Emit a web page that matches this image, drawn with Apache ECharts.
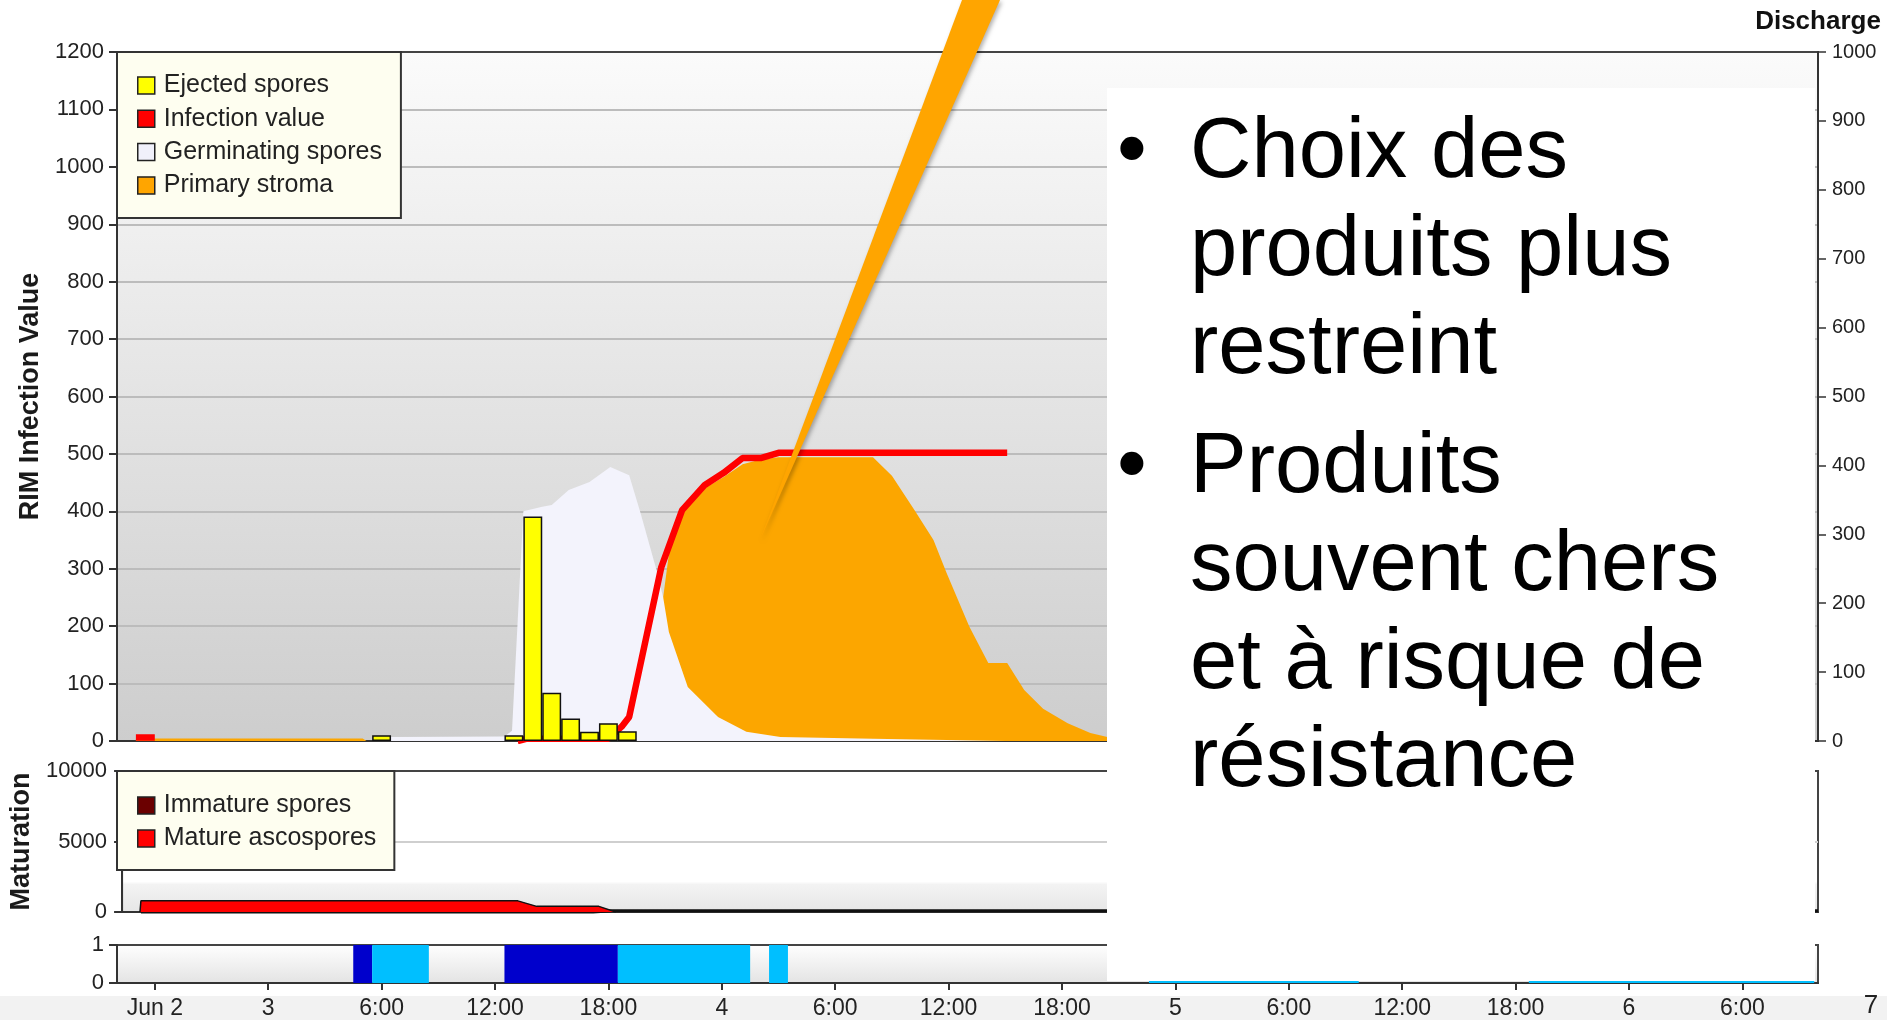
<!DOCTYPE html>
<html lang="fr">
<head>
    <meta charset="UTF-8">
    <title>RIM - Infection</title>
    <script type="text/javascript" src="https://cdn.jsdelivr.net/npm/echarts@6/dist/echarts.min.js"></script>
    <style>
        html, body {margin: 0; padding: 0; background: #fff;}
        #ec {width: 1887px; height: 1020px;}
    </style>
</head>
<body>
<div id="ec"></div>
<script>
    // ---- data (hours from the "Jun 2" tick) ----
    var xTickHours = [0, 6, 12, 18, 24, 30, 36, 42, 48, 54, 60, 66, 72, 78, 84];
    var xTickLabels = ['Jun 2', '3', '6:00', '12:00', '18:00', '4', '6:00', '12:00', '18:00', '5', '6:00', '12:00', '18:00', '6', '6:00'];

    var ejectedHours = [12, 19, 20, 21, 22, 23, 24, 25];
    var ejectedValues = [10, 10, 391, 84, 39, 16, 31, 17];

    var infectionHours = [-1, 0, 0.5, 19.2, 19.7, 24, 24.7, 25.1, 26.8, 27.9, 29.1, 30.1, 31.1, 32.1, 33.0, 45.1];
    var infectionValues = [6, 6, '-', 0, 4, 4, 25, 42, 303, 402, 446, 467, 493, 493, 502, 502];

    var germHours = [11.5, 12.5, 18.5, 18.9, 19.5, 20.5, 21, 21.9, 23, 24.1, 25.1, 25.7, 26.5, 26.9, 27.2, 28.2, 29.8, 31.3, 33.1, 38, 45];
    var germValues = [0, 7, 8, 18, 400, 408, 411, 437, 451, 477, 463, 397, 303, 250, 190, 94, 42, 16, 7, 4, 0];

    var stromaHours = [-1, 11, 11.2, 25.5, 26, 26.9, 27.3, 27.9, 28.5, 29.1, 30.1, 31.1, 32, 33, 38, 39, 40.2, 41.2, 41.9, 43.1, 44.1, 45.1, 46, 47, 48.3, 49.5, 50.4, 52, 54];
    var stromaValues = [4.5, 4.5, 0, 0, 50, 251, 350, 402, 425, 440, 460, 482, 490, 494, 494, 462, 402, 350, 292, 199, 136, 136, 89, 56, 31, 14, 7, 2, 0];

    var matureHours = [-1.05, -1, 19, 20, 23.3, 24.2];
    var matureValues = [0, 790, 790, 400, 400, 0];

    var immatureHours = [-1, 23, 24, 88];
    var immatureValues = [0, 0, 80, 80];

    // leaf wetness: [start, end]
    var wetDark = [[10.5, 11.5], [18.5, 24.5]];
    var wetLight = [[11.5, 14.5], [24.5, 31.5], [32.5, 33.5], [52.6, 63.7], [72.7, 87.8]];

    var FONT = '"Liberation Sans", Arial, sans-serif';

    function pairs(xs, ys) {
        return xs.map(function (x, i) { return [x, ys[i]]; });
    }

    var wetData = [];
    wetDark.forEach(function (d) { wetData.push([d[0], d[1], 1]); });
    wetLight.forEach(function (d) { wetData.push([d[0], d[1], 0]); });

    var slideLines = [
        {text: 'Choix des', base: 178, bullet: true},
        {text: 'produits plus', base: 276},
        {text: 'restreint', base: 374},
        {text: 'Produits', base: 493, bullet: true},
        {text: 'souvent chers', base: 591},
        {text: 'et à risque de', base: 689},
        {text: 'résistance', base: 787}
    ];

    function grad(stops) {
        return new echarts.graphic.LinearGradient(0, 0, 0, 1, stops);
    }
    function plain(v) {
        return String(v);
    }

    var axisLine = {show: true, onZero: false, lineStyle: {color: '#333', width: 2}};

    var graphics = [
        {type: 'rect', z: -1, silent: true, shape: {x: 0, y: 996, width: 1887, height: 24}, style: {fill: '#f2f2f2'}},
        {type: 'rect', z: 100, silent: true, shape: {x: 1107, y: 88, width: 708, height: 893}, style: {fill: '#fff'}},
        {type: 'polygon', z: 102, silent: true, shape: {points: [[962, 0], [1000, 0], [760, 540]]},
            style: {fill: '#ffa500', shadowBlur: 4, shadowOffsetX: 2, shadowOffsetY: 2, shadowColor: 'rgba(0,0,0,0.3)'}},
        {type: 'text', z: 101, silent: true, style: {text: '7', x: 1871, y: 1006, align: 'center', verticalAlign: 'middle', fontSize: 26, fontFamily: FONT, fill: '#222'}}
    ];
    slideLines.forEach(function (l) {
        graphics.push({type: 'text', z: 101, silent: true,
            style: {text: l.text, x: 1190, y: l.base - 24, align: 'left', verticalAlign: 'middle', fontSize: 85, fontFamily: FONT, fill: '#000'}});
        if (l.bullet) {
            graphics.push({type: 'text', z: 101, silent: true,
                style: {text: '\u2022', x: 1117, y: l.base - 24, align: 'left', verticalAlign: 'middle', fontSize: 85, fontFamily: FONT, fill: '#000'}});
        }
    });

    var myChart = echarts.init(document.getElementById('ec'));
    myChart.setOption({
        animation: false,
        backgroundColor: '#fff',
        textStyle: {fontFamily: FONT},
        grid: [
            {left: 117, top: 52, width: 1701, height: 689, show: true, borderColor: '#444', borderWidth: 2,
                backgroundColor: grad([{offset: 0, color: '#fbfbfb'}, {offset: 1, color: '#cdcdcd'}])},
            {left: 117, top: 771, width: 1701, height: 141, show: true, borderColor: '#444', borderWidth: 2,
                backgroundColor: grad([{offset: 0, color: '#fff'}, {offset: 0.78, color: '#fff'}, {offset: 0.8, color: '#f3f3f3'}, {offset: 1, color: '#e6e6e6'}])},
            {left: 117, top: 945, width: 1701, height: 38, show: true, borderColor: '#444', borderWidth: 2,
                backgroundColor: grad([{offset: 0, color: '#fff'}, {offset: 1, color: '#e3e3e3'}])}
        ],
        legend: [
            {
                data: ['Ejected spores', 'Infection value', 'Germinating spores', 'Primary stroma'],
                orient: 'vertical', left: 117, top: 52, z: 10, selectedMode: false,
                padding: [21, 19, 20, 20], itemWidth: 17, itemHeight: 17, itemGap: 8.3, icon: 'rect',
                backgroundColor: '#fefef0', borderColor: '#333', borderWidth: 2,
                itemStyle: {borderColor: '#222', borderWidth: 1.5},
                textStyle: {fontSize: 25, lineHeight: 24, color: '#222', padding: [0, 0, 0, 4], fontFamily: FONT}
            },
            {
                data: ['Immature spores', 'Mature ascospores'],
                orient: 'vertical', left: 117, top: 771, z: 10, selectedMode: false,
                padding: [22, 18, 19, 20], itemWidth: 17, itemHeight: 17, itemGap: 8, icon: 'rect',
                backgroundColor: '#fefef0', borderColor: '#333', borderWidth: 2,
                itemStyle: {borderColor: '#222', borderWidth: 1.5},
                textStyle: {fontSize: 25, lineHeight: 24, color: '#222', padding: [0, 0, 0, 4], fontFamily: FONT}
            }
        ],
        xAxis: [
            {gridIndex: 0, type: 'value', min: -2, max: 88, axisLine: axisLine, axisTick: {show: false}, axisLabel: {show: false}, splitLine: {show: false}},
            {gridIndex: 1, type: 'value', min: -2, max: 88, axisLine: axisLine, axisTick: {show: false}, axisLabel: {show: false}, splitLine: {show: false}},
            {
                gridIndex: 2, type: 'value', min: -2, max: 88, axisLine: axisLine, splitLine: {show: false},
                axisTick: {show: true, length: 7, customValues: xTickHours, lineStyle: {color: '#333', width: 2}},
                axisLabel: {
                    show: true, margin: 14, customValues: xTickHours, color: '#222', fontSize: 23, fontFamily: FONT,
                    formatter: function (v) {
                        var i = xTickHours.indexOf(v);
                        return i >= 0 ? xTickLabels[i] : '';
                    }
                }
            }
        ],
        yAxis: [
            {
                gridIndex: 0, type: 'value', min: 0, max: 1200, interval: 100, position: 'left',
                name: 'RIM Infection Value', nameLocation: 'middle', nameGap: 63, nameRotate: 90,
                nameTextStyle: {fontSize: 27, fontWeight: 'bold', color: '#1a1a1a', fontFamily: FONT},
                axisLine: axisLine, axisTick: {show: true, length: 8, lineStyle: {color: '#333', width: 2}},
                axisLabel: {margin: 13, color: '#222', fontSize: 22, fontFamily: FONT, formatter: plain},
                splitLine: {show: true, showMinLine: false, showMaxLine: false, lineStyle: {color: '#bcbcbc', width: 2}}
            },
            {
                gridIndex: 0, type: 'value', min: 0, max: 1000, interval: 100, position: 'right',
                name: 'Discharge', nameLocation: 'end', nameGap: 17,
                nameTextStyle: {fontSize: 26, fontWeight: 'bold', color: '#111', fontFamily: FONT},
                axisLine: axisLine, axisTick: {show: true, length: 8, lineStyle: {color: '#333', width: 1.5}},
                axisLabel: {margin: 14, color: '#222', fontSize: 20, fontFamily: FONT, formatter: plain},
                splitLine: {show: false}
            },
            {
                gridIndex: 1, type: 'value', min: 0, max: 10000, interval: 5000,
                name: 'Maturation', nameLocation: 'middle', nameGap: 85, nameRotate: 90,
                nameTextStyle: {fontSize: 27, fontWeight: 'bold', color: '#1a1a1a', fontFamily: FONT},
                axisLine: axisLine, axisTick: {show: true, length: 8, lineStyle: {color: '#333', width: 2}},
                axisLabel: {margin: 15, color: '#222', fontSize: 22, fontFamily: FONT, formatter: plain},
                splitLine: {show: true, showMinLine: false, showMaxLine: false, lineStyle: {color: '#cfcfcf', width: 2}}
            },
            {
                gridIndex: 2, type: 'value', min: 0, max: 1, interval: 1,
                axisLine: axisLine, axisTick: {show: true, length: 8, lineStyle: {color: '#333', width: 2}},
                axisLabel: {margin: 13, color: '#222', fontSize: 22, fontFamily: FONT, formatter: plain},
                splitLine: {show: false}
            }
        ],
        series: [
            {
                name: 'Primary stroma', type: 'line', xAxisIndex: 0, yAxisIndex: 0, z: 2,
                data: pairs(stromaHours, stromaValues), symbol: 'none',
                lineStyle: {width: 0}, itemStyle: {color: '#ffa500'}, areaStyle: {color: '#fca600', opacity: 1}
            },
            {
                name: 'Germinating spores', type: 'line', xAxisIndex: 0, yAxisIndex: 0, z: 3,
                data: pairs(germHours, germValues), symbol: 'none',
                lineStyle: {width: 0}, itemStyle: {color: '#f0f0fa'}, areaStyle: {color: '#f3f3fc', opacity: 1}
            },
            {
                name: 'Infection value', type: 'line', xAxisIndex: 0, yAxisIndex: 0, z: 4,
                data: pairs(infectionHours, infectionValues), symbol: 'none',
                lineStyle: {color: '#ff0000', width: 6.5}, itemStyle: {color: '#ff0000'}
            },
            {
                name: 'Ejected spores', type: 'bar', xAxisIndex: 0, yAxisIndex: 0, z: 5,
                data: pairs(ejectedHours, ejectedValues), barWidth: 18.9,
                itemStyle: {color: '#ffff00', borderColor: '#111', borderWidth: 1.5}
            },
            {
                name: 'Immature spores', type: 'line', xAxisIndex: 1, yAxisIndex: 2, z: 2, clip: false,
                data: pairs(immatureHours, immatureValues), symbol: 'none',
                lineStyle: {color: '#111', width: 3}, itemStyle: {color: '#6b0000'}, areaStyle: {color: '#6b0000', opacity: 1}
            },
            {
                name: 'Mature ascospores', type: 'line', xAxisIndex: 1, yAxisIndex: 2, z: 3,
                data: pairs(matureHours, matureValues), symbol: 'none',
                lineStyle: {color: '#111', width: 1.5}, itemStyle: {color: '#ff0000'}, areaStyle: {color: '#ff0000', opacity: 1}
            },
            {
                name: 'Wetness', type: 'custom', xAxisIndex: 2, yAxisIndex: 3, z: 2,
                data: wetData,
                encode: {x: [0, 1]},
                renderItem: function (params, api) {
                    var p0 = api.coord([api.value(0), 1]);
                    var p1 = api.coord([api.value(1), 0]);
                    return {
                        type: 'rect',
                        shape: {x: p0[0], y: p0[1], width: p1[0] - p0[0], height: p1[1] - p0[1]},
                        style: {fill: api.value(2) ? '#0000cc' : '#00bfff'}
                    };
                }
            }
        ],
        graphic: graphics
    });
</script>
</body>
</html>
